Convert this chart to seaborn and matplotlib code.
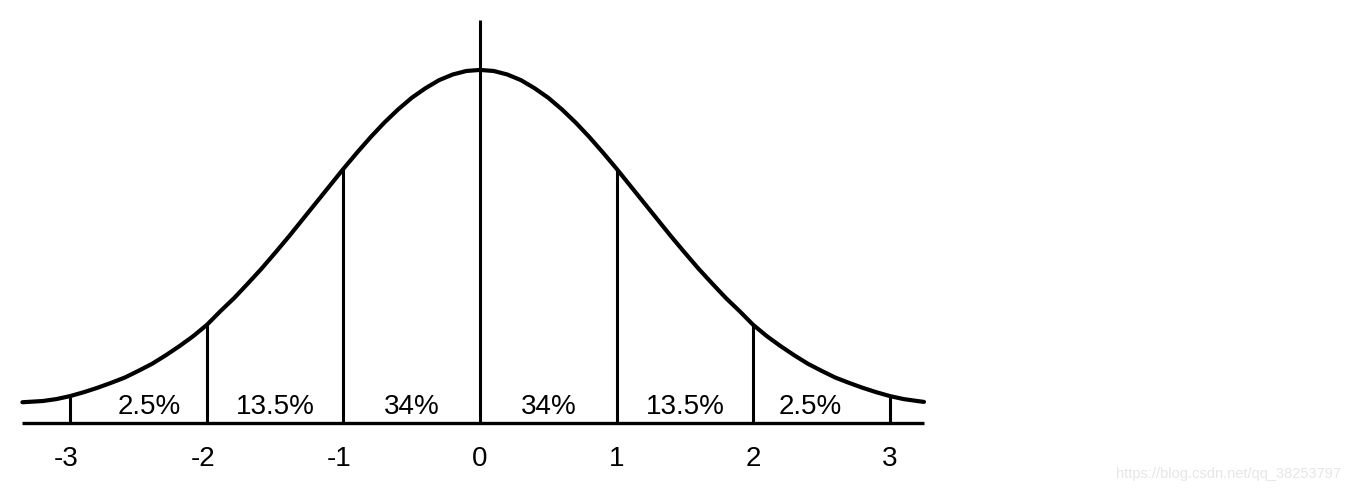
import pandas as pd
import matplotlib
matplotlib.use("Agg")
import matplotlib.pyplot as plt
import seaborn as sns

# bell curve: x in standard deviations, height with peak = 100
curve_x = [-3.35, -3.2, -3.1, -3.0, -2.9, -2.8, -2.7, -2.6, -2.5, -2.4, -2.3, -2.2,
           -2.1, -2.0, -1.9, -1.8, -1.7, -1.6, -1.5, -1.4, -1.3, -1.2, -1.1, -1.0,
           -0.9, -0.8, -0.7, -0.6, -0.5, -0.4, -0.3, -0.2, -0.1, 0.0,
           0.1, 0.2, 0.3, 0.4, 0.5, 0.6, 0.7, 0.8, 0.9, 1.0, 1.1, 1.2,
           1.3, 1.4, 1.5, 1.6, 1.7, 1.8, 1.9, 2.0, 2.1, 2.2, 2.3, 2.4,
           2.5, 2.6, 2.7, 2.8, 2.9, 3.0, 3.1, 3.2, 3.25]
curve_h = [5.9, 6.25, 6.8, 7.65, 8.75, 10.0, 11.4, 12.9, 14.8, 16.8, 19.2, 21.8,
           24.6, 27.8, 31.7, 35.4, 39.5, 43.7, 48.2, 52.8, 57.6, 62.4, 67.2, 72.0,
           76.6, 81.0, 85.1, 88.8, 92.1, 94.8, 97.1, 98.7, 99.7, 100.0,
           99.7, 98.7, 97.1, 94.8, 92.1, 88.8, 85.1, 81.0, 76.6, 72.0, 67.2, 62.4,
           57.6, 52.8, 48.2, 43.7, 39.5, 35.4, 31.7, 27.8, 24.6, 21.8, 19.2, 16.8,
           14.8, 12.9, 11.4, 10.0, 8.75, 7.65, 6.8, 6.25, 6.0]

ticks = [-3, -2, -1, 0, 1, 2, 3]
tick_labels = ["-3", "-2", "-1", "0", "1", "2", "3"]
percent_labels = ["2.5%", "13.5%", "34%", "34%", "13.5%", "2.5%"]
center_line_top = 114
watermark = "https://blog.csdn.net/qq_38253797"

df = pd.DataFrame({"x": curve_x, "h": curve_h})
heights = dict(zip(curve_x, curve_h))

sns.set_style("white")
plt.rcParams["font.family"] = ["Liberation Sans", "DejaVu Sans"]

fig = plt.figure(figsize=(13.51, 4.93), dpi=100)
ax = fig.add_axes([0, 0, 1, 1])

# the curve
sns.lineplot(data=df, x="x", y="h", ax=ax, color="black", linewidth=3.0,
             sort=False, estimator=None)

# baseline
ax.plot([curve_x[0], curve_x[-1]], [0, 0], color="black", linewidth=2.4,
        solid_capstyle="butt")

# vertical lines up to the curve, the centre one goes higher
for t in ticks:
    top = center_line_top if t == 0 else heights[float(t)]
    ax.plot([t, t], [0, top], color="black", linewidth=2.2, solid_capstyle="butt")

# percentages between the lines
for i, lab in enumerate(percent_labels):
    mid = (ticks[i] + ticks[i + 1]) / 2
    if abs(mid) > 2:
        mid -= 0.08 * (1 if mid > 0 else -1)
    ax.text(mid, 4.6, lab, ha="center", va="center", fontsize=20, color="black")

# tick labels under the axis
for t, lab in zip(ticks, tick_labels):
    ax.text(t - 0.03 if t < 0 else t, -10.3, lab, ha="center", va="center",
            fontsize=20, color="black")

fig.text(1341 / 1351, 1 - 474 / 493, watermark, ha="right", va="center",
         fontsize=10.5, color="#e6e6e6")

ax.set_xlim(-3.514, 6.376)
ax.set_ylim(-19.8, 119.8)
ax.axis("off")

fig.savefig("out.png", dpi=100)
